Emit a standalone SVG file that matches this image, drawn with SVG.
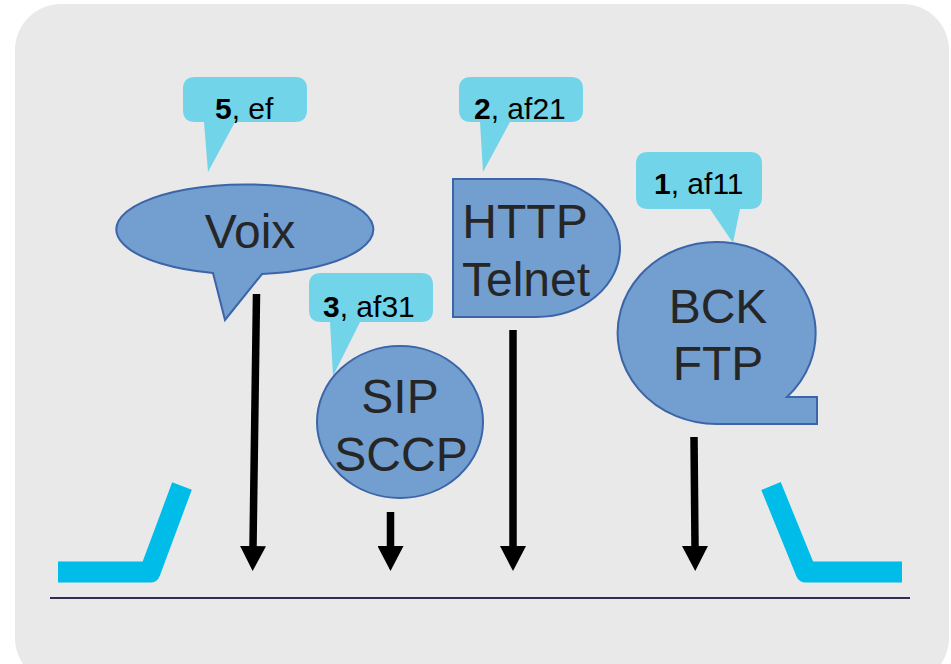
<svg xmlns="http://www.w3.org/2000/svg" width="951" height="664" viewBox="0 0 951 664">
<style>
.shape{fill:#729fd0;stroke:#3b65a8;stroke-width:2}
.big{font-family:"Liberation Sans",Arial,sans-serif;font-size:48px;fill:#262626;text-anchor:middle}
.call{fill:#72d4e9}
.lab{font-family:"Liberation Sans",Arial,sans-serif;font-size:30px;fill:#000}
.arr{stroke:#000;stroke-width:7.5;fill:none;marker-end:url(#ah)}
.cyan{stroke:#00bce9;stroke-width:21;fill:none;stroke-linejoin:round}
</style>
<defs>
<marker id="ah" viewBox="0 0 25 26" markerWidth="25" markerHeight="26" markerUnits="userSpaceOnUse" refX="0" refY="13" orient="auto">
<path d="M0,0 L25,13 L0,26 Z" fill="#000"/>
</marker>
</defs>
<rect x="0" y="0" width="951" height="664" fill="#fff"/>
<rect id="background" x="15" y="4" width="934" height="680" rx="46" ry="46" fill="#e9e9e9"/>
<g id="link-left"><polyline class="cyan" points="58,572 150,572 182,486"/></g>
<g id="link-right"><polyline class="cyan" points="771,486 806,572 902,572"/></g>
<line id="baseline" x1="50" y1="598" x2="910" y2="598" stroke="#2e2e52" stroke-width="2"/>

<g id="callout-5">
<path class="call" d="M195,77 H295 Q307,77 307,89 V110 Q307,122 295,122 H235 L208,172 L204,122 H195 Q183,122 183,110 V89 Q183,77 195,77 Z"/>
<text class="lab" x="215" y="119"><tspan font-weight="bold">5</tspan>, ef</text>
</g>
<g id="node-voix">
<path class="shape" d="M213,273 A128.5,45 0 1 1 262,274 L225,320 Z"/>
<text class="big" x="250" y="248">Voix</text>
</g>

<g id="callout-3">
<path class="call" d="M321,273 H421 Q433,273 433,285 V310 Q433,322 421,322 H360 L333,376 L330,322 H321 Q309,322 309,310 V285 Q309,273 321,273 Z"/>
<text class="lab" x="323" y="317"><tspan font-weight="bold">3</tspan>, af31</text>
</g>
<g id="node-sip">
<ellipse class="shape" cx="400" cy="422" rx="83" ry="76"/>
<text class="big" x="400" y="413">SIP</text>
<text class="big" x="401" y="471">SCCP</text>
</g>

<g id="callout-2">
<path class="call" d="M471,77 H571 Q583,77 583,89 V110 Q583,122 571,122 H510 L483,172 L480,122 H471 Q459,122 459,110 V89 Q459,77 471,77 Z"/>
<text class="lab" x="474" y="119"><tspan font-weight="bold">2</tspan>, af21</text>
</g>
<g id="node-http">
<path class="shape" d="M453,179 H536 A84,69 0 0 1 536,317 H453 Z"/>
<text class="big" x="525" y="238">HTTP</text>
<text class="big" x="526" y="296">Telnet</text>
</g>

<g id="callout-1">
<path class="call" d="M648,152 H750 Q762,152 762,164 V197 Q762,209 750,209 H740 L733,243 L710,209 H648 Q636,209 636,197 V164 Q636,152 648,152 Z"/>
<text class="lab" x="654" y="194"><tspan font-weight="bold">1</tspan>, af11</text>
</g>
<g id="node-bck">
<path class="shape" d="M718,424 A99,91 0 1 1 787,397 H817 V424 Z"/>
<text class="big" x="718" y="323">BCK</text>
<text class="big" x="718" y="380">FTP</text>
</g>

<g id="connectors">
<line class="arr" x1="256.5" y1="294" x2="253" y2="546"/>
<line class="arr" x1="390.5" y1="512" x2="390.5" y2="546"/>
<line class="arr" x1="513" y1="330" x2="513" y2="546"/>
<line class="arr" x1="694" y1="437" x2="695" y2="546"/>
</g>
</svg>
